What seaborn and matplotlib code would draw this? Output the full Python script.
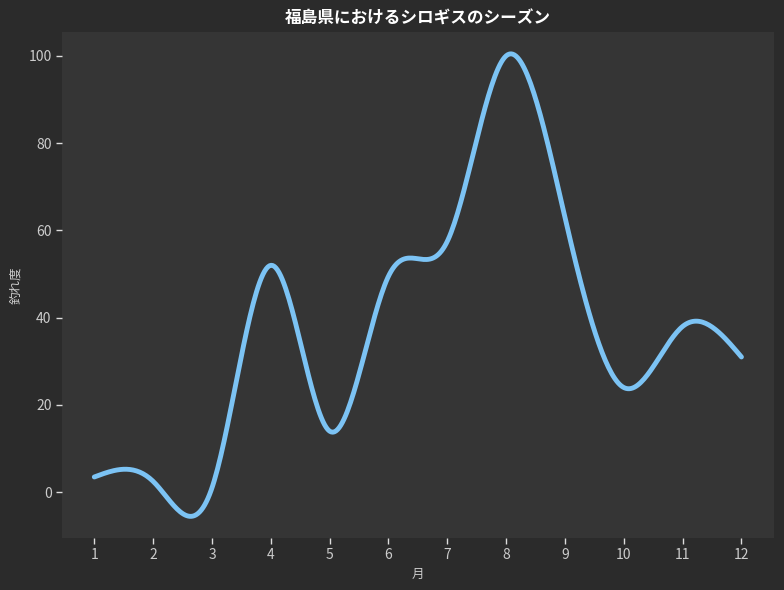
import numpy as np
import pandas as pd
import matplotlib
matplotlib.use("Agg")
import matplotlib.pyplot as plt
import seaborn as sns

# monthly catch index
months = [1, 2, 3, 4, 5, 6, 7, 8, 9, 10, 11, 12]
catch = [3.5, 2.5, 1, 52, 14, 49.5, 57.5, 100, 63, 24, 38, 31]


def spline_curve(x, y, n=400):
    # natural cubic spline, one cubic per interval
    x = np.asarray(x, float)
    y = np.asarray(y, float)
    m = len(x) - 1
    A = np.zeros((4 * m, 4 * m))
    b = np.zeros(4 * m)
    r = 0
    for i in range(m):
        h = x[i + 1] - x[i]
        A[r, 4 * i] = 1; b[r] = y[i]; r += 1
        A[r, 4 * i:4 * i + 4] = [1, h, h ** 2, h ** 3]; b[r] = y[i + 1]; r += 1
    for i in range(m - 1):
        h = x[i + 1] - x[i]
        A[r, 4 * i:4 * i + 4] = [0, 1, 2 * h, 3 * h ** 2]; A[r, 4 * (i + 1) + 1] = -1; r += 1
        A[r, 4 * i:4 * i + 4] = [0, 0, 2, 6 * h]; A[r, 4 * (i + 1) + 2] = -2; r += 1
    h = x[-1] - x[-2]
    A[r, 2] = 2; r += 1
    A[r, 4 * (m - 1) + 2] = 2; A[r, 4 * (m - 1) + 3] = 6 * h; r += 1
    c = np.linalg.solve(A, b).reshape(m, 4)
    xs = np.linspace(x[0], x[-1], n)
    idx = np.clip(np.searchsorted(x, xs, side="right") - 1, 0, m - 1)
    t = xs - x[idx]
    ys = c[idx, 0] + c[idx, 1] * t + c[idx, 2] * t ** 2 + c[idx, 3] * t ** 3
    return xs, ys


xs, ys = spline_curve(months, catch)
df = pd.DataFrame({"月": xs, "釣れ度": ys})

sns.set_style("dark")
plt.rcParams['font.family'] = ['Noto Sans CJK JP', 'DejaVu Sans']

fig, ax = plt.subplots(figsize=(7.84, 5.9), dpi=100)
fig.patch.set_facecolor('#2b2b2b')
ax.set_facecolor('#353535')

sns.lineplot(data=df, x="月", y="釣れ度", color='#7cc3f4', linewidth=3.5, ax=ax)

ax.set_xticks(months)
ax.set_xlim(0.45, 12.55)
ax.set_ylim(-10.5, 105.5)
for s in ax.spines.values():
    s.set_visible(False)
ax.tick_params(colors='#dddddd', labelcolor='#cccccc', labelsize=10, length=4, width=1,
               bottom=True, left=True)
ax.set_xlabel("月", color='#cccccc', fontsize=9)
ax.set_ylabel("釣れ度", color='#cccccc', fontsize=9)
ax.set_title("福島県におけるシロギスのシーズン", color='white', fontsize=12, fontweight='bold', pad=6)

plt.subplots_adjust(left=0.079, right=0.987, top=0.946, bottom=0.088)
plt.savefig("out.png", dpi=100, facecolor=fig.get_facecolor())
